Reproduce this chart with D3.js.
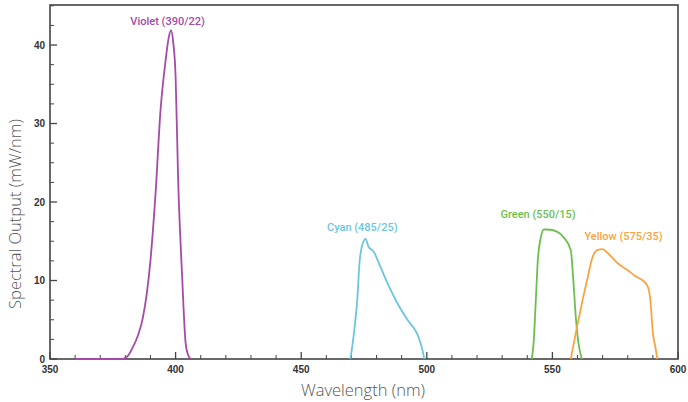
<!DOCTYPE html>
<html><head><meta charset="utf-8">
<script src="https://cdn.jsdelivr.net/npm/d3@7/dist/d3.min.js"></script>
<style>body{margin:0;background:#fff;}</style>
</head><body>
<svg id="c" width="688" height="402"></svg>
<script>
const xTicks = [350, 400, 450, 500, 550, 600];
const yTicks = [0, 10, 20, 30, 40];

const violetNm  = [360, 370, 379, 381, 383, 385, 387, 390, 392, 394, 396, 397.3, 398.2, 399, 400, 401, 402.6, 404, 405, 406];
const violetVal = [0, 0, 0, 0.4, 1.5, 3.0, 5.3, 12.6, 21, 31.7, 38, 41, 41.9, 40.5, 36, 23, 10.5, 2, 0.5, 0];

const cyanNm  = [469.6, 471, 472.3, 473.3, 474.8, 475.6, 476.8, 478.8, 481.6, 484.3, 488.3, 492.3, 496.3, 498.3, 499];
const cyanVal = [0, 3.3, 7.5, 12.6, 15, 15.3, 14.3, 13.7, 11.7, 9.7, 7.1, 5, 3.1, 1.1, 0];

const greenNm  = [541.8, 542.6, 543.4, 544.2, 545.4, 546.6, 548, 552, 554.5, 557.3, 558.4, 559.3, 560.2, 561.7];
const greenVal = [0, 2.4, 7.5, 12.6, 15.5, 16.5, 16.5, 16.2, 15.5, 13.9, 9.7, 5.4, 2.4, 0];

const yellowNm  = [557.3, 559.3, 562, 564.1, 566, 568, 570, 572, 576, 580, 583.3, 586, 588, 589, 590, 591, 591.8];
const yellowVal = [0, 3.3, 7.5, 10.5, 13, 13.9, 14, 13.5, 12.2, 11.3, 10.5, 10, 9.2, 7.5, 3.3, 1.5, 0];

const seriesNames  = ["Violet (390/22)", "Cyan (485/25)", "Green (550/15)", "Yellow (575/35)"];
const seriesColors = ["#a54aa8", "#6cc6df", "#6cbf4e", "#f9a443"];
const labelPos = [[398, 42.6], [475.5, 16.3], [545.5, 18.0], [579.5, 15.1]];

const svg = d3.select("#c");
const m = {l: 50, r: 678, t: 5, b: 359};
const x = d3.scaleLinear().domain([350, 600]).range([m.l, m.r]);
const y = d3.scaleLinear().domain([0, 45.1]).range([m.b, m.t]);

const frameColor = "#444";

// minor ticks
const xMinor = d3.range(350, 601, 10).filter(v => v % 50 !== 0);
const yMinor = d3.range(0, 45.1, 2.5).filter(v => v % 10 !== 0);
svg.append("g").selectAll("line").data(xMinor).join("line")
  .attr("x1", d => x(d)).attr("x2", d => x(d)).attr("y1", m.b).attr("y2", m.b - 4)
  .attr("stroke", frameColor).attr("stroke-width", 1);
svg.append("g").selectAll("line").data(xTicks).join("line")
  .attr("x1", d => x(d)).attr("x2", d => x(d)).attr("y1", m.b).attr("y2", m.b - 7)
  .attr("stroke", frameColor).attr("stroke-width", 1.3);
svg.append("g").selectAll("line").data(yMinor).join("line")
  .attr("x1", m.l).attr("x2", m.l + 4).attr("y1", d => y(d)).attr("y2", d => y(d))
  .attr("stroke", frameColor).attr("stroke-width", 1);
svg.append("g").selectAll("line").data(yTicks).join("line")
  .attr("x1", m.l).attr("x2", m.l + 7).attr("y1", d => y(d)).attr("y2", d => y(d))
  .attr("stroke", frameColor).attr("stroke-width", 1.3);

// frame
svg.append("rect").attr("x", m.l).attr("y", m.t).attr("width", m.r - m.l).attr("height", m.b - m.t)
  .attr("fill", "none").attr("stroke", frameColor).attr("stroke-width", 1.6);

// tick labels
svg.append("g").selectAll("text").data(xTicks).join("text")
  .attr("x", d => x(d)).attr("y", m.b + 14).attr("text-anchor", "middle")
  .attr("font-family", "Liberation Sans, Arial, sans-serif").attr("font-weight", "bold")
  .attr("font-size", 10).attr("fill", "#333").text(d => d);
svg.append("g").selectAll("text").data(yTicks).join("text")
  .attr("x", m.l - 5).attr("y", d => y(d) + 3.5).attr("text-anchor", "end")
  .attr("font-family", "Liberation Sans, Arial, sans-serif").attr("font-weight", "bold")
  .attr("font-size", 10).attr("fill", "#333").text(d => d);

// axis titles
svg.append("text").attr("x", 363).attr("y", 396).attr("text-anchor", "middle")
  .attr("font-family", "'Open Sans', sans-serif").attr("font-weight", 300)
  .attr("font-size", 16.5).attr("fill", "#555").text("Wavelength (nm)");
svg.append("text").attr("transform", "translate(21,214) rotate(-90)").attr("text-anchor", "middle")
  .attr("font-family", "'Open Sans', sans-serif").attr("font-weight", 300)
  .attr("font-size", 16.5).attr("fill", "#555").text("Spectral Output (mW/nm)");

// lines
const allNm = [violetNm, cyanNm, greenNm, yellowNm];
const allVal = [violetVal, cyanVal, greenVal, yellowVal];
const line = d3.line().x(d => x(d[0])).y(d => y(d[1])).curve(d3.curveMonotoneX);
allNm.forEach((nm, i) => {
  const pts = nm.map((v, j) => [v, allVal[i][j]]);
  svg.append("path").datum(pts).attr("d", line).attr("fill", "none")
    .attr("stroke", seriesColors[i]).attr("stroke-width", 1.8).attr("stroke-linejoin", "round");
  svg.append("text").attr("x", x(labelPos[i][0]) - 3).attr("y", y(labelPos[i][1]))
    .attr("text-anchor", "middle").attr("font-family", "Roboto, 'Liberation Sans', sans-serif")
    .attr("font-weight", 500)
    .attr("font-size", 11).attr("fill", seriesColors[i]).text(seriesNames[i]);
});
</script>
</body></html>
